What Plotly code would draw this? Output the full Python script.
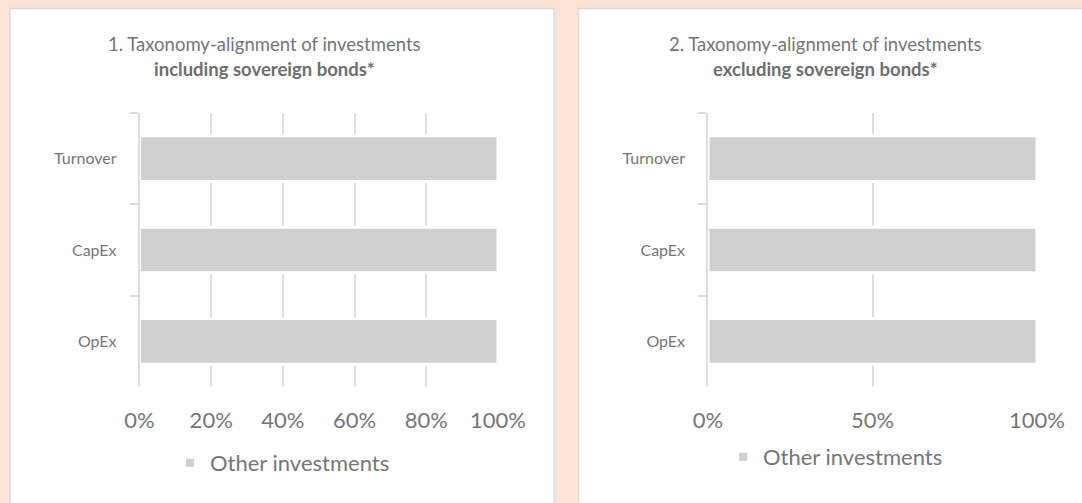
import plotly.graph_objects as go

# Chart data
categories = ["Turnover", "CapEx", "OpEx"]
incl_other = [100, 100, 100]   # % other investments, incl. sovereign bonds
excl_other = [100, 100, 100]   # % other investments, excl. sovereign bonds
series_name = "Other investments"
ticks_left = [0, 20, 40, 60, 80, 100]
ticks_left_text = ["0%", "20%", "40%", "60%", "80%", "100%"]
ticks_right = [0, 50, 100]
ticks_right_text = ["0%", "50%", "100%"]
title_left = ["1. Taxonomy-alignment of investments", "including sovereign bonds*"]
title_right = ["2. Taxonomy-alignment of investments", "excluding sovereign bonds*"]

W, H = 1082, 503
BG = "#FCE4D6"
BAR = "#D0D0D0"
GRID = "#DEDEDE"
TXT = "#767676"
FONT = "Lato, Calibri, Arial, sans-serif"


def px(x):
    return x / W


def py(y):
    return 1 - y / H


fig = go.Figure()

fig.add_trace(go.Bar(
    x=incl_other, y=categories, orientation="h", name=series_name,
    marker=dict(color=BAR, line=dict(color="white", width=3)),
    xaxis="x", yaxis="y", showlegend=False, hoverinfo="x+y",
))
fig.add_trace(go.Bar(
    x=excl_other, y=categories, orientation="h", name=series_name,
    marker=dict(color=BAR, line=dict(color="white", width=3)),
    xaxis="x2", yaxis="y2", showlegend=False, hoverinfo="x+y",
))

# legend keys (small square swatches)
for xa, ya, lg in (("x", "y", "legend"), ("x2", "y2", "legend2")):
    fig.add_trace(go.Scatter(
        x=[None], y=[None], mode="markers", name=series_name,
        marker=dict(symbol="square", size=8, color=BAR),
        xaxis=xa, yaxis=ya, legend=lg, showlegend=True,
    ))

xcommon = dict(
    range=[0, 100], showgrid=True, gridcolor=GRID, gridwidth=1.5,
    zeroline=False, showline=False, ticks="", tickmode="array",
    tickfont=dict(family=FONT, size=22, color=TXT), ticklabelstandoff=18,
    fixedrange=True, automargin=False,
)
ycommon = dict(
    type="category", categoryorder="array", categoryarray=categories,
    autorange="reversed", showgrid=False, zeroline=False,
    showline=True, linecolor=GRID, linewidth=1.5,
    ticks="outside", tickson="boundaries", ticklen=8, tickcolor=GRID, tickwidth=1.5,
    tickfont=dict(family=FONT, size=16, color=TXT), ticklabelstandoff=18,
    fixedrange=True, automargin=False,
)

plot_top, plot_bot = 113, 387

fig.update_layout(
    template="none",
    width=W, height=H,
    margin=dict(l=0, r=0, t=0, b=0, pad=0),
    paper_bgcolor=BG, plot_bgcolor="rgba(0,0,0,0)",
    bargap=0.5,
    xaxis=dict(domain=[px(139.5), px(498)], anchor="y",
               tickvals=ticks_left, ticktext=ticks_left_text, **xcommon),
    yaxis=dict(domain=[py(plot_bot), py(plot_top)], anchor="x", **ycommon),
    xaxis2=dict(domain=[px(708), px(1037)], anchor="y2",
                tickvals=ticks_right, ticktext=ticks_right_text, **xcommon),
    yaxis2=dict(domain=[py(plot_bot), py(plot_top)], anchor="x2", **ycommon),
    legend=dict(x=px(170), y=py(463), xanchor="left", yanchor="middle",
                bgcolor="rgba(0,0,0,0)", borderwidth=0,
                font=dict(family=FONT, size=22, color=TXT)),
    legend2=dict(x=px(723), y=py(457), xanchor="left", yanchor="middle",
                 bgcolor="rgba(0,0,0,0)", borderwidth=0,
                 font=dict(family=FONT, size=22, color=TXT)),
    shapes=[
        dict(type="rect", xref="paper", yref="paper", layer="below",
             x0=px(10), x1=px(554), y0=-0.02, y1=py(8.5),
             fillcolor="white", line=dict(color="#DCDCDC", width=1.5)),
        dict(type="rect", xref="paper", yref="paper", layer="below",
             x0=px(578.5), x1=1.02, y0=-0.02, y1=py(8.5),
             fillcolor="white", line=dict(color="#DCDCDC", width=1.5)),
    ],
    showlegend=True,
)

for cx, lines in ((264, title_left), (825, title_right)):
    fig.add_annotation(x=px(cx), y=py(44), xref="paper", yref="paper",
                       text=lines[0], showarrow=False, xanchor="center", yanchor="middle",
                       font=dict(family=FONT, size=18.5, color=TXT))
    fig.add_annotation(x=px(cx), y=py(69), xref="paper", yref="paper",
                       text="<b>" + lines[1] + "</b>", showarrow=False,
                       xanchor="center", yanchor="middle",
                       font=dict(family=FONT, size=18.5, color="#6E6E6E"))

fig.write_html("out.html")
